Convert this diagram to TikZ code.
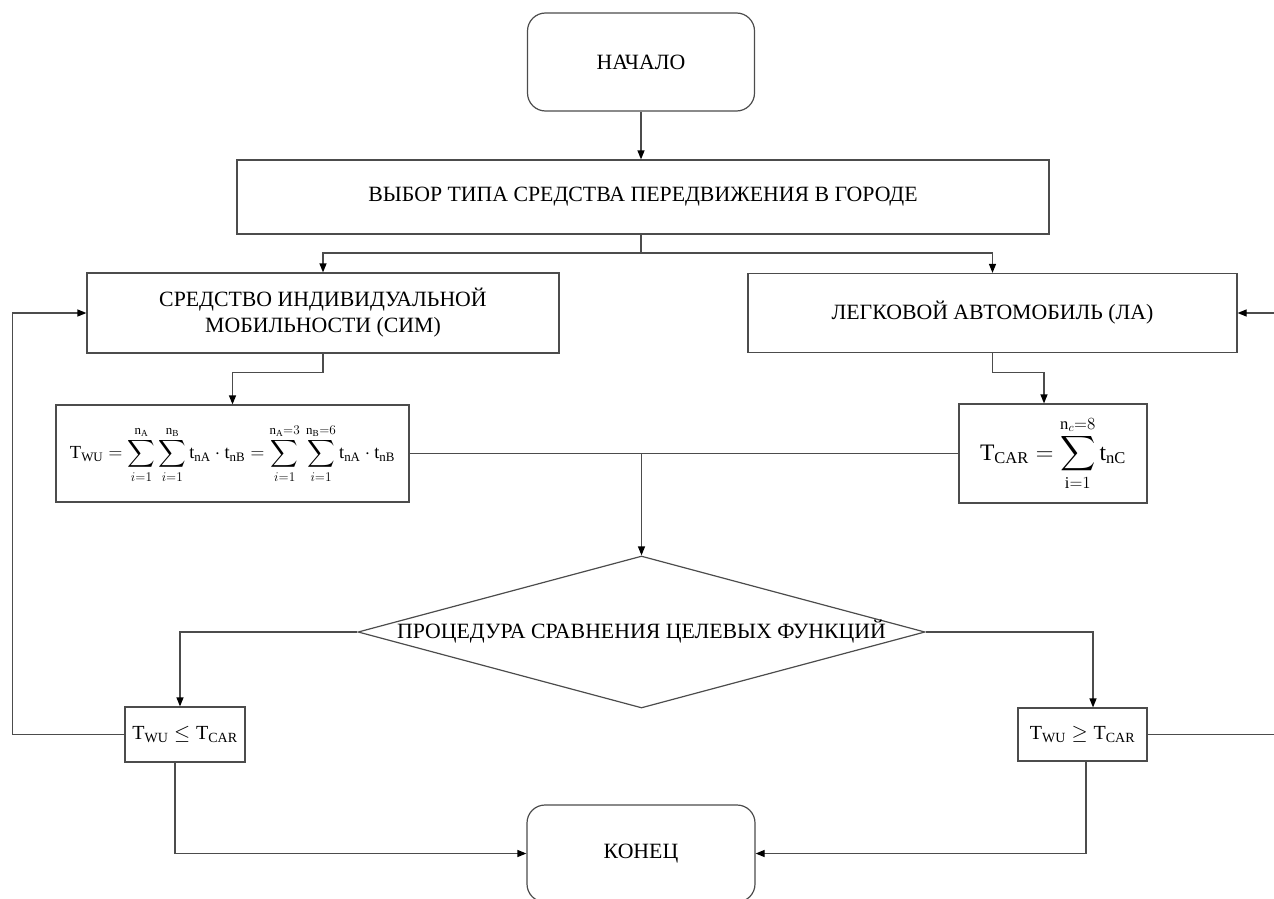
\documentclass[tikz,border=0pt]{standalone}
\usepackage{amsmath}
\usepackage{fontspec}
\setmainfont{Liberation Serif}
\usepackage{graphicx}
\usetikzlibrary{arrows.meta,shapes.geometric,calc}
\begin{document}
\begin{tikzpicture}[x=1pt,y=-1pt,
  line width=1.2pt,
  box/.style={draw=black!70, rectangle, inner sep=2pt, align=center, font=\fontsize{21.8}{26}\selectfont},
  term/.style={box, rounded corners=18pt},
  mbox/.style={box, font=\fontsize{20}{24}\selectfont},
  arr/.style={draw=black!70, -{Triangle[length=9pt,width=7pt,color=black]}},
  link/.style={draw=black!70}]
\useasboundingbox (0,0) rectangle (1274,899);
\clip (0,0) rectangle (1274,899);

\node[term, minimum width=227pt, minimum height=98pt] (start) at (641,62) {НАЧАЛО};
\node[box, minimum width=812pt, minimum height=74pt] (choose) at (643,197) {ВЫБОР ТИПА СРЕДСТВА ПЕРЕДВИЖЕНИЯ В ГОРОДЕ};
\node[box, minimum width=472pt, minimum height=80pt] (sim) at (323,313) {СРЕДСТВО ИНДИВИДУАЛЬНОЙ\\МОБИЛЬНОСТИ (СИМ)};
\node[box, minimum width=489pt, minimum height=79pt] (la) at (992.5,313) {ЛЕГКОВОЙ АВТОМОБИЛЬ (ЛА)};
\node[mbox, minimum width=353pt, minimum height=97pt] (fA) at (232.5,453.5)
  {\resizebox{325pt}{!}{$\displaystyle\mathrm{T}_{\mathrm{WU}}=\sum_{i=1}^{\mathrm{n}_{\mathrm{A}}}\sum_{i=1}^{\mathrm{n}_{\mathrm{B}}}\mathrm{t}_{\mathrm{nA}}\cdot\mathrm{t}_{\mathrm{nB}}=\sum_{i=1}^{\mathrm{n}_{\mathrm{A}}=3}\,\sum_{i=1}^{\mathrm{n}_{\mathrm{B}}=6}\mathrm{t}_{\mathrm{nA}}\cdot\mathrm{t}_{\mathrm{nB}}$}};
\node[mbox, minimum width=188pt, minimum height=99pt] (fC) at (1053,453.5)
  {\resizebox{146pt}{!}{$\displaystyle\mathrm{T}_{\mathrm{CAR}}=\sum_{\mathrm{i}=1}^{\mathrm{n}_{c}=8}\mathrm{t}_{\mathrm{nC}}$}};
\node[draw=black!70, diamond, inner sep=0pt, minimum width=567pt, minimum height=152pt, font=\fontsize{21.8}{26}\selectfont] (dec) at (641.5,632)
  {\makebox[0pt]{ПРОЦЕДУРА СРАВНЕНИЯ ЦЕЛЕВЫХ ФУНКЦИЙ}};
\node[mbox, minimum width=120pt, minimum height=55pt] (le) at (185,734.5) {$\mathrm{T}_{\mathrm{WU}}\leq\mathrm{T}_{\mathrm{CAR}}$};
\node[mbox, minimum width=129pt, minimum height=53pt] (ge) at (1082.5,734.5) {$\mathrm{T}_{\mathrm{WU}}\geq\mathrm{T}_{\mathrm{CAR}}$};
\node[term, minimum width=228pt, minimum height=97pt] (end) at (641,853.5) {КОНЕЦ};

\coordinate (j1) at (641,253);
\draw[arr] (start.south) -- (start.south |- choose.north);
\draw[link] (j1 |- choose.south) -- (j1);
\draw[arr] (j1) -| (sim.north);
\draw[arr] (j1) -| (la.north);
\draw[arr] (sim.south) -- ++(0,19) -| (fA.north);
\draw[arr] (la.south) -- ++(0,19) -| ([xshift=-9pt]fC.north);
\draw[link] (fA.east) -- (fC.west);
\draw[arr] (fA.east -| dec.north) -- (dec.north);
\draw[arr] (dec.west) -| ([xshift=-5pt]le.north);
\draw[arr] (dec.east) -| ([xshift=10.5pt]ge.north);
\draw[arr] (le.west) -- ++(-112,0) |- (sim.west);
\draw[arr] ([xshift=-10pt]le.south) |- (end.west);
\draw[arr] (ge.east) -- ++(150,0) |- (la.east);
\draw[arr] ([xshift=3.5pt]ge.south) |- (end.east);
\end{tikzpicture}
\end{document}
